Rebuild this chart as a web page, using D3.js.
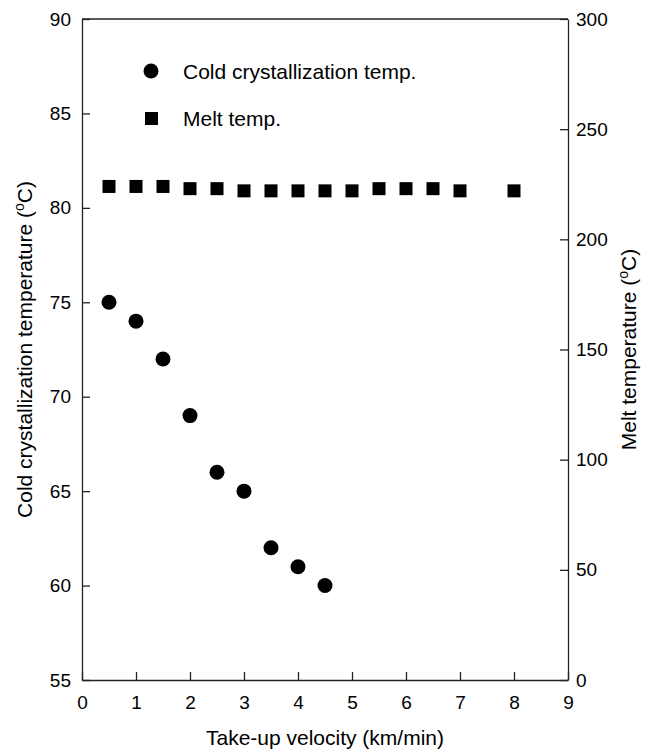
<!DOCTYPE html>
<html>
<head>
<meta charset="utf-8">
<script src="https://cdn.jsdelivr.net/npm/d3@7"></script>
<style>
  body { margin: 0; background: #fff; }
  svg text { font-family: "Liberation Sans", Arial, sans-serif; fill: #000; }
</style>
</head>
<body>
<svg id="chart" width="650" height="749"></svg>
<script>
// data
const coldVelocity = [0.5, 1, 1.5, 2, 2.5, 3, 3.5, 4, 4.5];
const coldTemp = [75, 74, 72, 69, 66, 65, 62, 61, 60];

const meltVelocity = [0.5, 1, 1.5, 2, 2.5, 3, 3.5, 4, 4.5, 5, 5.5, 6, 6.5, 7, 8];
const meltTemp = [224, 224, 224, 223, 223, 222, 222, 222, 222, 222, 223, 223, 223, 222, 222];

const xTicks = [0, 1, 2, 3, 4, 5, 6, 7, 8, 9];
const leftTicks = [55, 60, 65, 70, 75, 80, 85, 90];
const rightTicks = [0, 50, 100, 150, 200, 250, 300];

const svg = d3.select("#chart");
const margin = { top: 19, right: 82, bottom: 69, left: 82 };
const W = 650, H = 749;

const x = d3.scaleLinear().domain([0, 9]).range([margin.left, W - margin.right]);
const yL = d3.scaleLinear().domain([55, 90]).range([H - margin.bottom, margin.top]);
const yR = d3.scaleLinear().domain([0, 300]).range([H - margin.bottom, margin.top]);

const tickFs = 19;
const titleFs = 21;

// frame top line
svg.append("line")
  .attr("x1", x(0)).attr("x2", x(9))
  .attr("y1", yL(90)).attr("y2", yL(90))
  .attr("stroke", "#222").attr("stroke-width", 1.3);

// axes, ticks pointing inward
const xAxis = svg.append("g")
  .attr("transform", `translate(0,${H - margin.bottom})`)
  .call(d3.axisBottom(x).tickValues(xTicks).tickSizeInner(-8).tickSizeOuter(0).tickPadding(16));

const leftAxis = svg.append("g")
  .attr("transform", `translate(${margin.left},0)`)
  .call(d3.axisLeft(yL).tickValues(leftTicks).tickSizeInner(-8).tickSizeOuter(0).tickPadding(11));

const rightAxis = svg.append("g")
  .attr("transform", `translate(${W - margin.right},0)`)
  .call(d3.axisRight(yR).tickValues(rightTicks).tickSizeInner(-8).tickSizeOuter(0).tickPadding(8));

[xAxis, leftAxis, rightAxis].forEach(a => {
  a.selectAll("path").attr("stroke", "#222").attr("stroke-width", 1.3);
  a.selectAll("line").attr("stroke", "#222").attr("stroke-width", 1.3);
  a.selectAll("text").attr("font-size", tickFs).attr("fill", "#000");
});

// data points
svg.append("g")
  .selectAll("circle")
  .data(coldVelocity)
  .join("circle")
  .attr("cx", d => x(d))
  .attr("cy", (d, i) => yL(coldTemp[i]))
  .attr("r", 7.5)
  .attr("fill", "#000");

const sq = 13;
svg.append("g")
  .selectAll("rect")
  .data(meltVelocity)
  .join("rect")
  .attr("x", d => x(d) - sq / 2)
  .attr("y", (d, i) => yR(meltTemp[i]) - sq / 2)
  .attr("width", sq)
  .attr("height", sq)
  .attr("fill", "#000");

// legend
const legend = svg.append("g");
legend.append("circle").attr("cx", 151).attr("cy", 71).attr("r", 7.5).attr("fill", "#000");
legend.append("text").attr("x", 183).attr("y", 78.5).attr("font-size", titleFs)
  .text("Cold crystallization temp.");
legend.append("rect").attr("x", 145).attr("y", 112).attr("width", sq).attr("height", sq).attr("fill", "#000");
legend.append("text").attr("x", 183).attr("y", 125.5).attr("font-size", titleFs)
  .text("Melt temp.");

// axis titles
svg.append("text")
  .attr("x", (x(0) + x(9)) / 2).attr("y", 745)
  .attr("text-anchor", "middle").attr("font-size", titleFs)
  .text("Take-up velocity (km/min)");

function degLabel(g, main) {
  const t = g.append("text").attr("text-anchor", "middle").attr("font-size", titleFs);
  t.append("tspan").text(main + " (");
  t.append("tspan").attr("dy", -8).attr("font-size", 14).text("o");
  t.append("tspan").attr("dy", 8).text("C)");
  return t;
}

const midY = (yL(55) + yL(90)) / 2;
const ly = svg.append("g").attr("transform", `translate(32,${midY}) rotate(-90)`);
degLabel(ly, "Cold crystallization temperature");

const ry = svg.append("g").attr("transform", `translate(636,${midY}) rotate(-90)`);
degLabel(ry, "Melt temperature");
</script>
</body>
</html>
